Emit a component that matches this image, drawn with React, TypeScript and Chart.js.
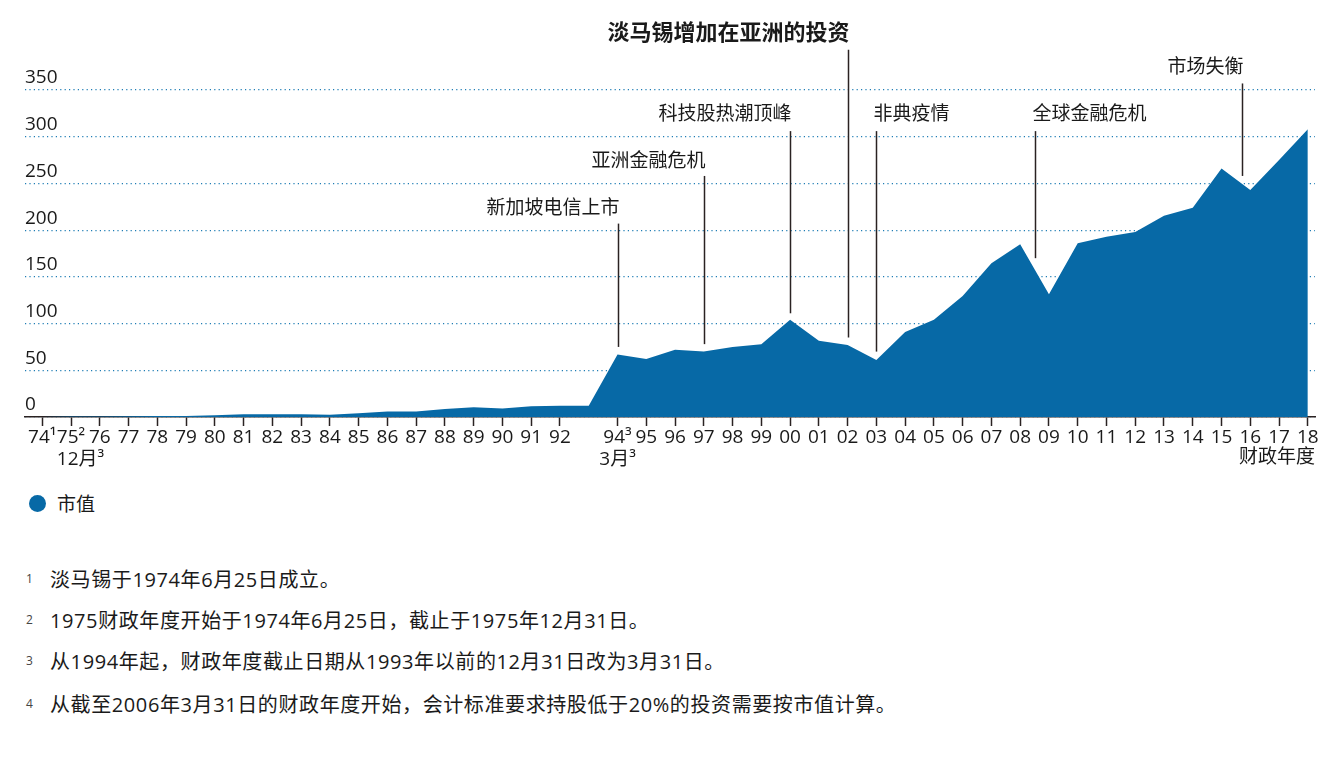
import React, { useEffect, useRef } from 'react';
import Chart from 'chart.js/auto';

// fiscal years, 1974 .. 2018 (93 has no label on the axis)
const years = [
  '74', '75', '76', '77', '78', '79', '80', '81', '82', '83', '84', '85', '86', '87', '88',
  '89', '90', '91', '92', '93', '94', '95', '96', '97', '98', '99', '00', '01', '02', '03',
  '04', '05', '06', '07', '08', '09', '10', '11', '12', '13', '14', '15', '16', '17', '18',
];

const tickLabels: (string | string[])[] = years.map((y) => {
  if (y === '74') return '74¹';
  if (y === '75') return ['75²', '\u2002\u200212月³'];
  if (y === '93') return '';
  if (y === '94') return ['94³', '3月³'];
  return y;
});

// market value (S$ billion)
const marketValue = [
  0, 0.5, 0.5, 0.8, 1, 1, 2, 3, 3, 3, 2.5, 4, 6, 6, 8.5,
  10.5, 9, 11.5, 12, 12, 67, 62, 72, 70, 75, 78, 104, 81.5, 77, 61,
  91, 104, 129.5, 164.5, 185, 131.5, 186, 193, 198, 215.5, 224, 266, 243, 275, 308,
];

const yTicks = [0, 50, 100, 150, 200, 250, 300, 350];

// event annotations: x in year index, text/line ends in value units
const events = [
  { text: '新加坡电信上市', x: 20, textY: 223, top: 207, bottom: 75, side: 'left', bold: false },
  { text: '亚洲金融危机', x: 23, textY: 273, top: 258, bottom: 78, side: 'left', bold: false },
  { text: '科技股热潮顶峰', x: 26, textY: 324, top: 306, bottom: 111, side: 'left', bold: false },
  { text: '淡马锡增加在亚洲的投资', x: 28, textY: 410, top: 393, bottom: 85, side: 'left', bold: true },
  { text: '非典疫情', x: 29, textY: 324, top: 306, bottom: 70, side: 'right', bold: false },
  { text: '全球金融危机', x: 34.5, textY: 324, top: 306, bottom: 170, side: 'right', bold: false },
  { text: '市场失衡', x: 41.7, textY: 374, top: 357, bottom: 258, side: 'left', bold: false },
];

const footnotes = [
  '淡马锡于1974年6月25日成立。',
  '1975财政年度开始于1974年6月25日，截止于1975年12月31日。',
  '从1994年起，财政年度截止日期从1993年以前的12月31日改为3月31日。',
  '从截至2006年3月31日的财政年度开始，会计标准要求持股低于20%的投资需要按市值计算。',
];

const FONT = '"Open Sans", "Noto Sans CJK SC", sans-serif';
const AREA = '#0769a6';
const INK = '#1a1a1a';

const annotationPlugin = {
  id: 'events',
  afterDraw(chart: any) {
    const { ctx } = chart;
    const xs = chart.scales.x;
    const ys = chart.scales.y;
    ctx.save();
    ctx.strokeStyle = '#2a2222';
    ctx.lineWidth = 1.5;
    ctx.fillStyle = INK;
    ctx.textBaseline = 'middle';
    events.forEach((ev) => {
      const px = Math.round(xs.getPixelForValue(ev.x)) + 0.5;
      ctx.beginPath();
      ctx.moveTo(px, ys.getPixelForValue(ev.top));
      ctx.lineTo(px, ys.getPixelForValue(ev.bottom));
      ctx.stroke();
      ctx.font = ev.bold ? `bold 22px ${FONT}` : `19px ${FONT}`;
      if (ev.side === 'left') {
        ctx.textAlign = 'right';
        ctx.fillText(ev.text, px + 1, ys.getPixelForValue(ev.textY));
      } else {
        ctx.textAlign = 'left';
        ctx.fillText(ev.text, px - 3, ys.getPixelForValue(ev.textY));
      }
    });
    // axis caption under the last year
    ctx.font = `19px ${FONT}`;
    ctx.textAlign = 'right';
    ctx.fillText('财政年度', xs.right, xs.top + 41);
    ctx.restore();
  },
};

export default function App() {
  const canvasRef = useRef<HTMLCanvasElement>(null);

  useEffect(() => {
    document.body.style.margin = '0';
    if (!canvasRef.current) return;
    const chart = new Chart(canvasRef.current, {
      type: 'line',
      data: {
        datasets: [
          {
            label: '市值',
            data: marketValue.map((v, i) => ({ x: i, y: v })),
            backgroundColor: AREA,
            borderColor: AREA,
            borderWidth: 0,
            pointRadius: 0,
            fill: 'origin',
            tension: 0,
          },
        ],
      },
      options: {
        animation: false,
        responsive: true,
        maintainAspectRatio: false,
        layout: { padding: { left: 25, right: 27, top: 90, bottom: 0 } },
        plugins: {
          legend: { display: false },
          tooltip: { enabled: false },
        },
        scales: {
          x: {
            type: 'linear',
            min: -0.6,
            max: 44.25,
            afterBuildTicks: (axis: any) => {
              axis.ticks = years.map((_, i) => ({ value: i }));
            },
            afterFit: (axis: any) => {
              axis.height = 63;
            },
            ticks: {
              autoSkip: false,
              maxRotation: 0,
              minRotation: 0,
              padding: 1,
              color: INK,
              font: { family: FONT, size: 19, lineHeight: 1.15 },
              callback: (_v: any, i: number) => tickLabels[i],
            },
            grid: {
              drawOnChartArea: false,
              drawTicks: true,
              tickLength: 9,
              tickWidth: 1.5,
              tickColor: (c: any) => (years[c.index] === '93' ? 'rgba(0,0,0,0)' : '#2a2222'),
            },
            border: { display: true, color: '#2a2222', width: 1.5 },
          },
          y: {
            min: 0,
            max: 350,
            afterBuildTicks: (axis: any) => {
              axis.ticks = yTicks.map((v) => ({ value: v }));
            },
            afterFit: (axis: any) => {
              axis.width = 0;
            },
            ticks: {
              mirror: true,
              padding: 0,
              labelOffset: -12,
              color: INK,
              font: { family: FONT, size: 19 },
            },
            grid: {
              drawTicks: false,
              color: '#1f7db5',
              lineWidth: 1.2,
            },
            border: { display: false, dash: [1.2, 3.2] },
          },
        },
      },
      plugins: [annotationPlugin],
    });
    return () => chart.destroy();
  }, []);

  return (
    <div
      style={{
        position: 'relative',
        width: 1342,
        height: 771,
        background: '#fff',
        fontFamily: FONT,
        color: INK,
      }}
    >
      <div style={{ position: 'absolute', left: 0, top: 0, width: 1342, height: 480 }}>
        <canvas ref={canvasRef}></canvas>
      </div>

      {/* legend */}
      <div style={{ position: 'absolute', left: 29, top: 491, height: 24, display: 'flex', alignItems: 'center' }}>
        <span style={{ width: 17, height: 17, borderRadius: '50%', background: AREA, display: 'inline-block' }}></span>
        <span style={{ marginLeft: 11, fontSize: 19 }}>市值</span>
      </div>

      {/* footnotes */}
      {footnotes.map((note, i) => (
        <div
          key={i}
          style={{
            position: 'absolute',
            left: 0,
            top: [565, 606, 647, 690][i],
            height: 26,
            display: 'flex',
            alignItems: 'center',
            whiteSpace: 'nowrap',
          }}
        >
          <span style={{ position: 'absolute', left: 26, fontSize: 12, color: '#444' }}>{i + 1}</span>
          <span style={{ position: 'absolute', left: 50, fontSize: 20, letterSpacing: 0.6 }}>{note}</span>
        </div>
      ))}
    </div>
  );
}
